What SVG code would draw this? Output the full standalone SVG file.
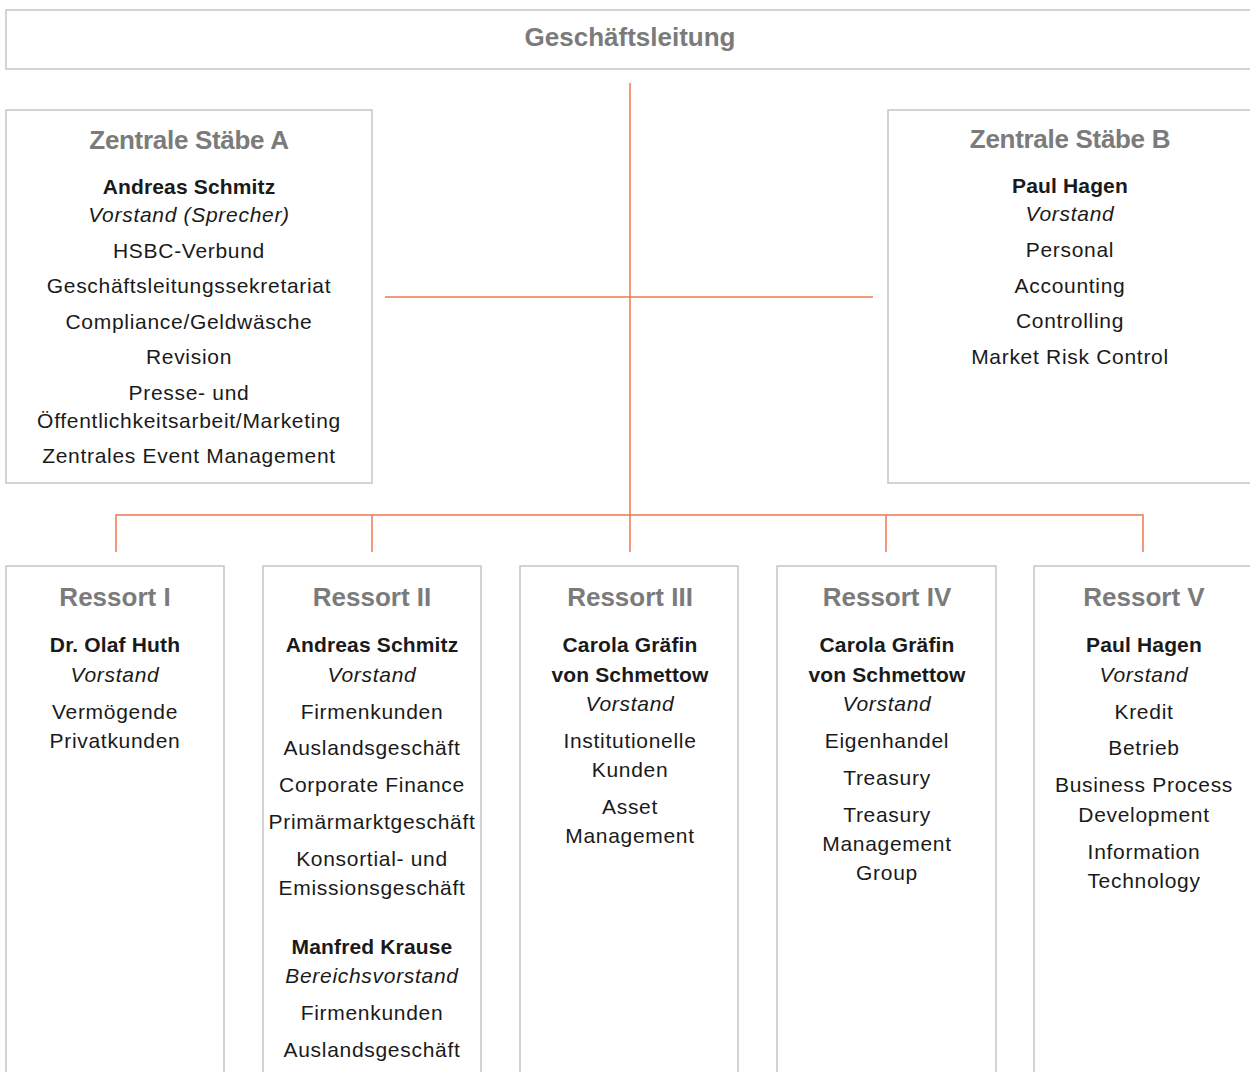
<svg xmlns="http://www.w3.org/2000/svg" width="1250" height="1072" viewBox="0 0 1250 1072">
<style>
.box{fill:#fff;stroke:#c3c6c8;stroke-width:1.5}
.ln{stroke:#ec7a50;stroke-width:1.5;fill:none}
text{font-family:"Liberation Sans",Arial,sans-serif;text-anchor:middle}
.h{font-size:26px;font-weight:bold;fill:#7b7b7b}
.t{letter-spacing:-0.3px}
.n{font-size:21px;font-weight:bold;fill:#1a1a1a;letter-spacing:0.15px}
.r{font-size:21px;fill:#1a1a1a;letter-spacing:0.7px}
.i{font-size:21px;font-style:italic;fill:#1a1a1a;letter-spacing:0.7px}
</style>
<rect width="1250" height="1072" fill="#fff"/>
<g id="connectors">
<line class="ln" x1="630" y1="83" x2="630" y2="552"/>
<line class="ln" x1="385" y1="297" x2="873" y2="297"/>
<polyline class="ln" points="116,552 116,515 1143,515 1143,552"/>
<line class="ln" x1="372" y1="515" x2="372" y2="552"/>
<line class="ln" x1="886" y1="515" x2="886" y2="552"/>
</g>
<g id="geschaeftsleitung">
<rect class="box" x="6" y="10" width="1260" height="59"/>
<text class="h" x="630" y="46">Geschäftsleitung</text>
</g>
<g id="staebe-a">
<rect class="box" x="6" y="110" width="366" height="373"/>
<text class="h t" x="189" y="149">Zentrale Stäbe A</text>
<text class="n" x="189" y="194">Andreas Schmitz</text>
<text class="i" x="189" y="222">Vorstand (Sprecher)</text>
<text class="r" x="189" y="258">HSBC-Verbund</text>
<text class="r" x="189" y="293">Geschäftsleitungssekretariat</text>
<text class="r" x="189" y="329">Compliance/Geldwäsche</text>
<text class="r" x="189" y="364">Revision</text>
<text class="r" x="189" y="400">Presse- und</text>
<text class="r" x="189" y="428">Öffentlichkeitsarbeit/Marketing</text>
<text class="r" x="189" y="463">Zentrales Event Management</text>
</g>
<g id="staebe-b">
<rect class="box" x="888" y="110" width="378" height="373"/>
<text class="h t" x="1070" y="148">Zentrale Stäbe B</text>
<text class="n" x="1070" y="193">Paul Hagen</text>
<text class="i" x="1070" y="221">Vorstand</text>
<text class="r" x="1070" y="257">Personal</text>
<text class="r" x="1070" y="293">Accounting</text>
<text class="r" x="1070" y="328">Controlling</text>
<text class="r" x="1070" y="364">Market Risk Control</text>
</g>
<g id="ressort-1">
<rect class="box" x="6" y="566" width="218" height="520"/>
<text class="h" x="115" y="606">Ressort I</text>
<text class="n" x="115" y="652">Dr. Olaf Huth</text>
<text class="i" x="115" y="682">Vorstand</text>
<text class="r" x="115" y="719">Vermögende</text>
<text class="r" x="115" y="748">Privatkunden</text>
</g>
<g id="ressort-2">
<rect class="box" x="263" y="566" width="218" height="520"/>
<text class="h" x="372" y="606">Ressort II</text>
<text class="n" x="372" y="652">Andreas Schmitz</text>
<text class="i" x="372" y="682">Vorstand</text>
<text class="r" x="372" y="719">Firmenkunden</text>
<text class="r" x="372" y="755">Auslandsgeschäft</text>
<text class="r" x="372" y="792">Corporate Finance</text>
<text class="r" x="372" y="829">Primärmarktgeschäft</text>
<text class="r" x="372" y="866">Konsortial- und</text>
<text class="r" x="372" y="895">Emissionsgeschäft</text>
<text class="n" x="372" y="954">Manfred Krause</text>
<text class="i" x="372" y="983">Bereichsvorstand</text>
<text class="r" x="372" y="1020">Firmenkunden</text>
<text class="r" x="372" y="1057">Auslandsgeschäft</text>
</g>
<g id="ressort-3">
<rect class="box" x="520" y="566" width="218" height="520"/>
<text class="h" x="630" y="606">Ressort III</text>
<text class="n" x="630" y="652">Carola Gräfin</text>
<text class="n" x="630" y="682">von Schmettow</text>
<text class="i" x="630" y="711">Vorstand</text>
<text class="r" x="630" y="748">Institutionelle</text>
<text class="r" x="630" y="777">Kunden</text>
<text class="r" x="630" y="814">Asset</text>
<text class="r" x="630" y="843">Management</text>
</g>
<g id="ressort-4">
<rect class="box" x="777" y="566" width="219" height="520"/>
<text class="h" x="887" y="606">Ressort IV</text>
<text class="n" x="887" y="652">Carola Gräfin</text>
<text class="n" x="887" y="682">von Schmettow</text>
<text class="i" x="887" y="711">Vorstand</text>
<text class="r" x="887" y="748">Eigenhandel</text>
<text class="r" x="887" y="785">Treasury</text>
<text class="r" x="887" y="822">Treasury</text>
<text class="r" x="887" y="851">Management</text>
<text class="r" x="887" y="880">Group</text>
</g>
<g id="ressort-5">
<rect class="box" x="1034" y="566" width="230" height="520"/>
<text class="h" x="1144" y="606">Ressort V</text>
<text class="n" x="1144" y="652">Paul Hagen</text>
<text class="i" x="1144" y="682">Vorstand</text>
<text class="r" x="1144" y="719">Kredit</text>
<text class="r" x="1144" y="755">Betrieb</text>
<text class="r" x="1144" y="792">Business Process</text>
<text class="r" x="1144" y="822">Development</text>
<text class="r" x="1144" y="859">Information</text>
<text class="r" x="1144" y="888">Technology</text>
</g>
</svg>
